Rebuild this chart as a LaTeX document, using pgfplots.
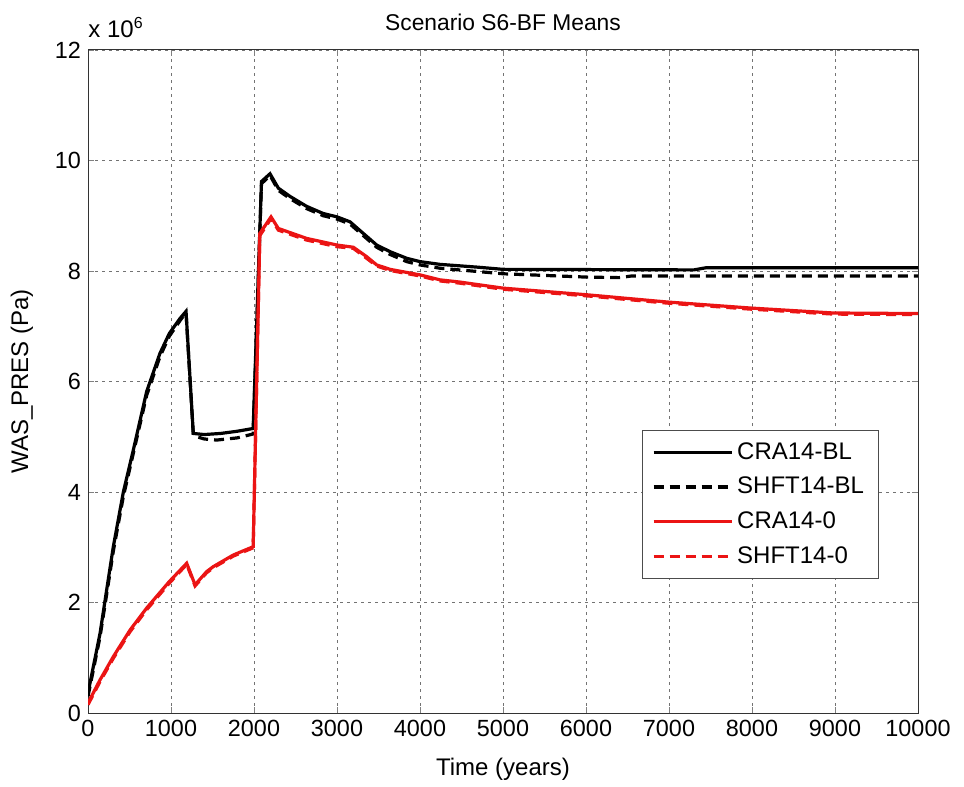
\documentclass[border=0pt]{standalone}
\usepackage{fontspec}
\setmainfont{Liberation Sans}
\usepackage{pgfplots}
\pgfplotsset{compat=1.18}
\definecolor{matred}{RGB}{235,20,20}

\begin{document}
\begin{tikzpicture}
\begin{axis}[
    scale only axis,
    width=415pt, height=331.5pt,
    xmin=0, xmax=10000, ymin=0, ymax=12,
    xtick={0,1000,...,10000}, ytick={0,2,...,12},
    scaled x ticks=false, scaled y ticks=false,
    /pgf/number format/assume math mode=true,
    /pgf/number format/1000 sep={},
    tick label style={font=\fontsize{11.7}{13}\selectfont},
    grid=major,
    major grid style={black!55, dash pattern=on 1.5pt off 2pt, line width=0.4pt},
    tick align=inside, major tick length=3pt,
    axis line style={black!80, line width=0.5pt},
    xlabel={Time (years)},
    xlabel style={font=\fontsize{12}{14}\selectfont, at={(axis description cs:0.5,0)}, anchor=center, yshift=-28pt},
    ylabel={WAS\_PRES (Pa)},
    ylabel style={font=\fontsize{12}{14}\selectfont, at={(axis description cs:-0.0795,0.5)}, anchor=center},
    legend style={at={(0.667,0.427)}, anchor=north west, draw=black!70, fill=white,
        font=\fontsize{12}{14}\selectfont, row sep=3.5pt, inner xsep=5pt, inner ysep=4pt},
    legend cell align=left,
    legend image code/.code={\draw[#1] plot coordinates {(0pt,0pt) (19.5pt,0pt) (39pt,0pt)};},
    every axis plot/.append style={line width=1.6pt},
]
% CRA14-BL
\addplot[black, solid] coordinates {
(0,0.36) (145,1.44) (225,2.23) (305,3.01) (426,4.00) (546,4.76) (707,5.82)
(867,6.51) (980,6.87) (1108,7.14) (1181,7.27) (1269,5.06) (1400,5.04)
(1600,5.06) (1800,5.10) (1990,5.15) (2090,9.62) (2193,9.76) (2293,9.50)
(2434,9.35) (2634,9.17) (2835,9.04) (3000,8.98) (3157,8.89) (3317,8.68)
(3478,8.47) (3639,8.35) (3840,8.23) (4000,8.17) (4241,8.12) (4690,8.07)
(5000,8.03) (7300,8.02) (7450,8.06) (10000,8.06)
};
% SHFT14-BL
\addplot[black, dash pattern=on 5pt off 3pt] coordinates {
(0,0.30) (145,1.38) (225,2.15) (305,2.93) (426,3.92) (546,4.70) (707,5.75)
(867,6.45) (980,6.82) (1108,7.10) (1181,7.25) (1269,5.02) (1400,4.96)
(1550,4.94) (1800,4.98) (1990,5.05) (2090,9.58) (2193,9.73) (2293,9.46)
(2434,9.31) (2634,9.13) (2835,9.00) (3000,8.94) (3157,8.85) (3317,8.64)
(3478,8.43) (3639,8.30) (3840,8.17) (4000,8.11) (4241,8.05) (4700,7.99)
(5000,7.95) (6000,7.89) (6400,7.88) (6550,7.91) (10000,7.91)
};
% CRA14-0
\addplot[matred, solid] coordinates {
(0,0.18) (145,0.60) (305,1.02) (506,1.50) (707,1.90) (980,2.38) (1189,2.71)
(1290,2.32) (1430,2.56) (1510,2.65) (1751,2.86) (1990,3.01) (2070,8.68)
(2205,8.98) (2293,8.77) (2634,8.59) (3000,8.47) (3197,8.43) (3357,8.26)
(3478,8.11) (3639,8.03) (4000,7.93) (4241,7.84) (4480,7.80) (5000,7.69)
(6010,7.57) (6970,7.44) (7980,7.33) (8980,7.24) (10000,7.23)
};
% SHFT14-0
\addplot[matred, dash pattern=on 5pt off 3pt] coordinates {
(0,0.15) (145,0.57) (305,0.99) (506,1.47) (707,1.87) (980,2.35) (1189,2.69)
(1290,2.30) (1430,2.54) (1510,2.63) (1751,2.84) (1990,2.99) (2070,8.64)
(2205,8.95) (2293,8.74) (2634,8.56) (3000,8.44) (3197,8.41) (3357,8.23)
(3478,8.09) (3639,8.01) (4000,7.91) (4241,7.82) (4480,7.78) (5000,7.67)
(6010,7.55) (6970,7.42) (7980,7.31) (8980,7.22) (10000,7.21)
};
\legend{CRA14-BL, SHFT14-BL, CRA14-0, SHFT14-0}
\end{axis}
\node[anchor=base, font=\fontsize{11.4}{13}\selectfont, inner sep=0pt]
    at ([yshift=10pt]current axis.north) {Scenario S6-BF Means};
\node[anchor=base west, font=\fontsize{12}{14}\selectfont, inner sep=0pt]
    at ([yshift=6.5pt]current axis.north west) {x 10\textsuperscript{6}};
\path (current axis.south west) ++(-44pt,-35.5pt);
\path (current axis.north east) ++(23pt,25pt);
\end{tikzpicture}
\end{document}
